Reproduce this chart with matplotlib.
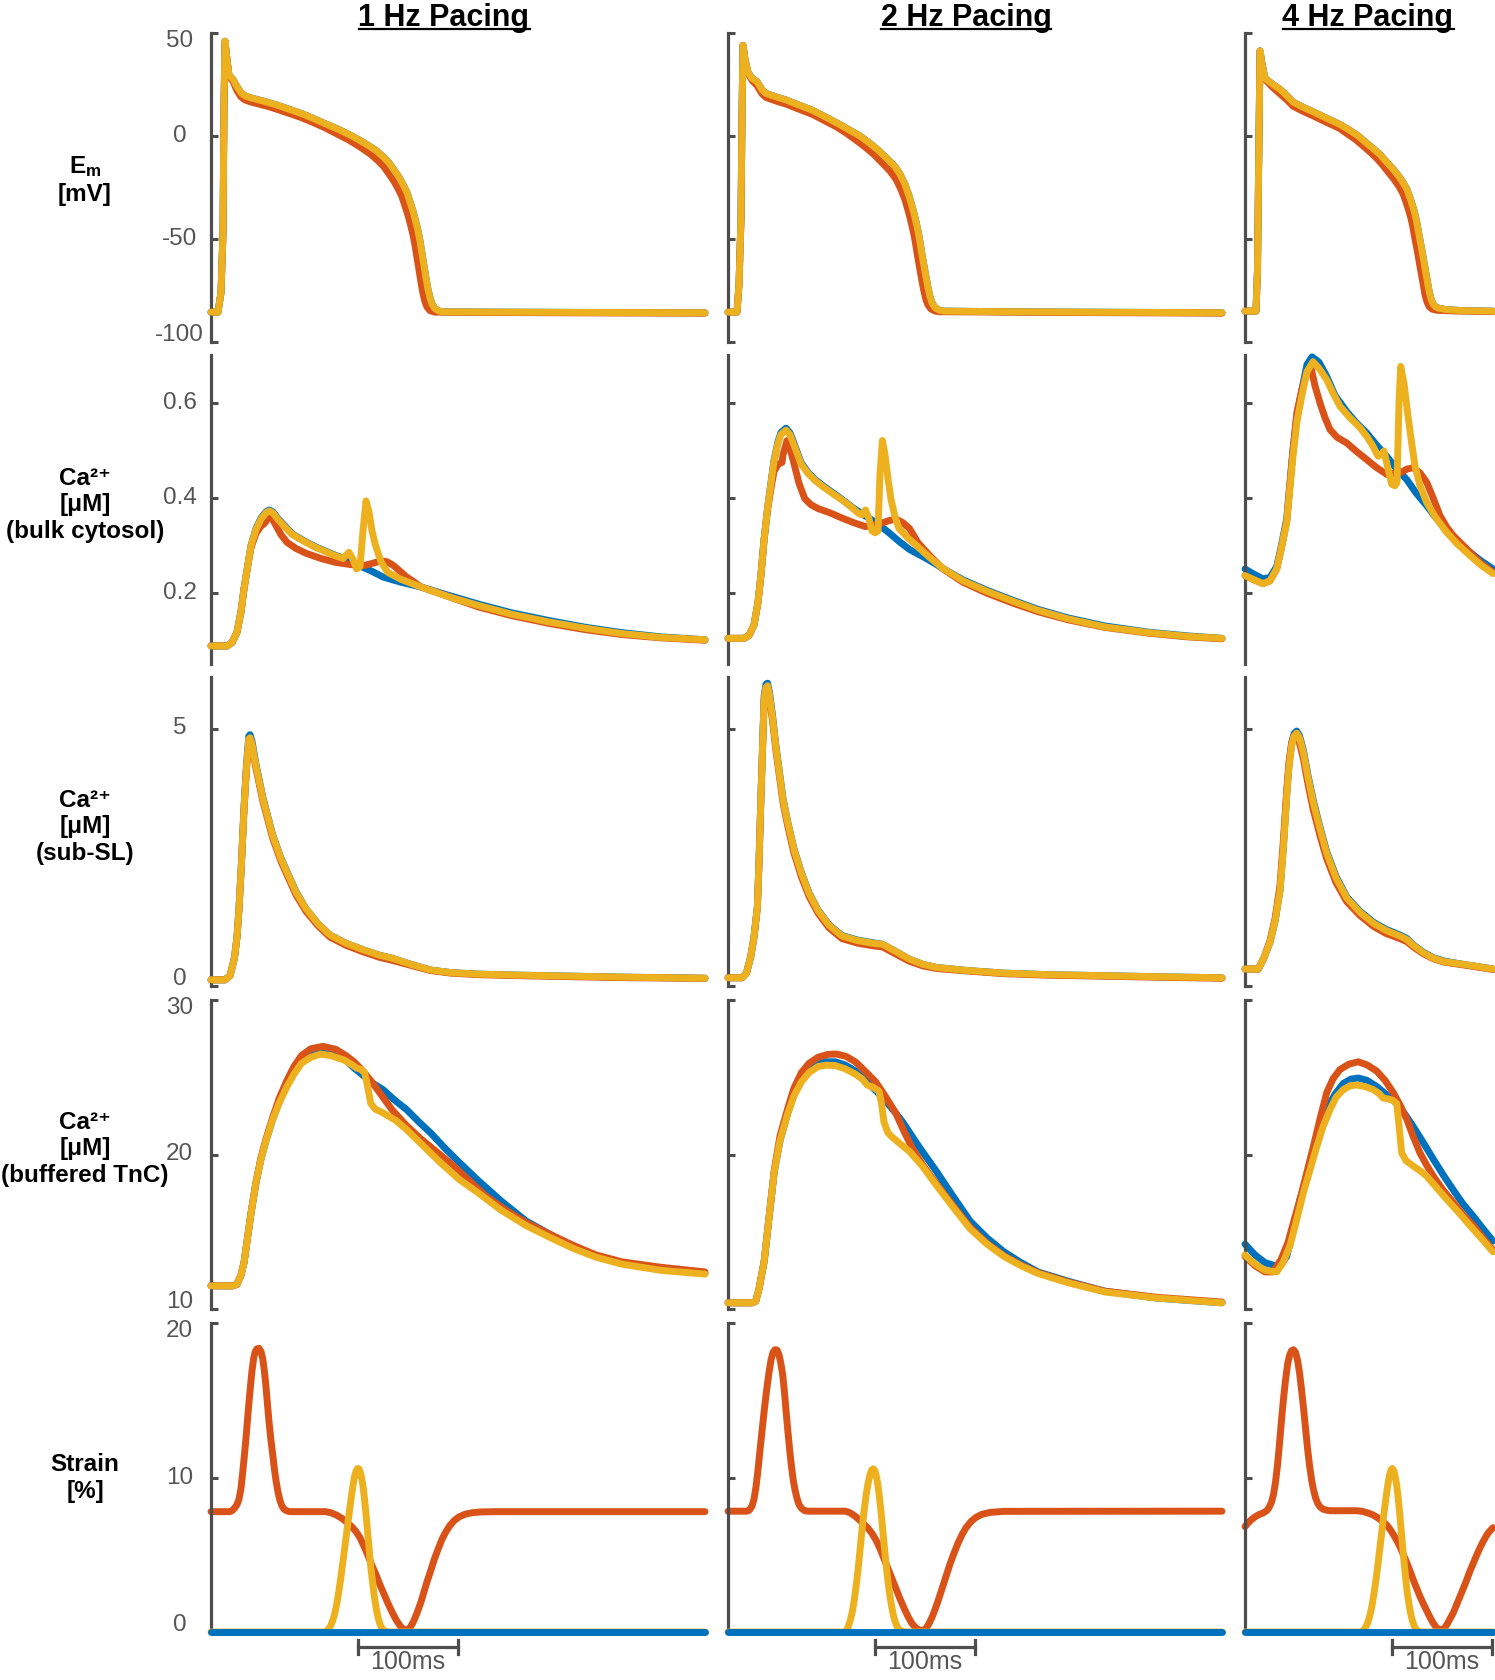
import numpy as np
import matplotlib.pyplot as plt
from matplotlib.lines import Line2D
import matplotlib.transforms as mtransforms

plt.rcParams['font.family'] = ['Liberation Sans', 'DejaVu Sans']
plt.rcParams['mathtext.fontset'] = 'custom'
plt.rcParams['mathtext.rm'] = 'Liberation Sans'
plt.rcParams['mathtext.bf'] = 'Liberation Sans:bold'
plt.rcParams['mathtext.it'] = 'Liberation Sans:italic'

BLUE, RED, YELLOW = '#0072BD', '#D95319', '#EDB120'
GREY = '#4d4d4d'

col_titles = ['1 Hz Pacing', '2 Hz Pacing', '4 Hz Pacing']
col_tmax = [494, 494, 248]
row_labels = ['E$_{\\mathbf{m}}$\n[mV]',
              'Ca\u00b2\u207a\n[\u03bcM]\n(bulk cytosol)',
              'Ca\u00b2\u207a\n[\u03bcM]\n(sub-SL)',
              'Ca\u00b2\u207a\n[\u03bcM]\n(buffered TnC)',
              'Strain\n[%]']
row_ylims = [(-100, 50), (0.05, 0.7), (0, 6), (10, 30), (0, 20)]
row_ticks = [[-100, -50, 0, 50], [0.2, 0.4, 0.6], [0, 5], [10, 20, 30], [0, 10, 20]]
row_ticklabels = [['-100', '-50', '0', '50'], ['0.2', '0.4', '0.6'], ['0', '5'],
                  ['10', '20', '30'], ['0', '10', '20']]
scalebar_ms = (147, 247)

# ---- membrane potential (t [ms], mV) ----
em1_yellow = [(0,-85.5),(7,-85.5),(10,-76),(12,-47),(13,15),(14,46),(16,37),(18,29.5),(22,27.5),(26,24),
              (30,21),(34,19.5),(40,18.5),(47,17.6),(55,16.6),(66,15),(78,13),(90,11),(102,8.6),(114,6),
              (128,3.1),(141,0),(153,-3.3),(165,-7),(172,-10),(178,-13),(183,-16.5),(188,-20),(192,-23.5),
              (196,-27.5),(199,-32),(202,-36.5),(204.5,-41),(207,-46),(209,-51),(211,-57),(213,-63),
              (215,-69),(217,-74.5),(219,-78.5),(221,-81.5),(224,-83.8),(228,-85),(234,-85.4),
              (300,-85.5),(400,-85.7),(494,-85.8)]
em1_blue = em1_yellow
em1_red = [(0,-85.5),(7,-85.5),(10,-76),(12,-47),(13,15),(14,46),(16,37),(18,29),(22,26.5),(26,22),
           (30,19),(34,17.5),(40,16.5),(47,15.6),(55,14.6),(66,13),(78,11),(90,9),(102,6.6),(114,4),
           (126,1),(138,-2),(149,-5.3),(160,-9),(167,-12),(173,-15),(178,-18.5),(183,-22),(187,-25.5),
           (191,-29.5),(194,-34),(197,-38.5),(199.5,-43),(202,-48),(204,-53),(206,-59),(208,-65),
           (210,-71),(212,-76.5),(214,-80.5),(216,-83),(219,-84.8),(224,-85.5),(300,-85.7),
           (400,-85.9),(494,-86)]
em2_yellow = [(0,-85.5),(9,-85.5),(11,-72),(13,-40),(14,10),(15,44),(17,37),(20,31),(24,28),(29,26.4),
              (34,22.5),(38,20.7),(48,19),(58,17.5),(70,15.2),(84,12.6),(96,9.6),(109,6.3),(120,3.3),
              (132,0),(141,-3.2),(150,-6.8),(158,-10.5),(167,-14.9),(172,-18.5),(177,-23.5),(181,-29),
              (184,-34),(187,-39.5),(190,-46),(192,-51.5),(194,-57.5),(196,-63),(198,-68.4),(200,-73.5),
              (202,-78),(204,-81),(207,-83.3),(211,-84.5),(216,-85),(276,-85.3),(400,-85.6),(494,-85.8)]
em2_blue = em2_yellow
em2_red = [(0,-85.5),(9,-85.5),(11,-72),(13,-40),(14,10),(15,44),(17,37),(20,30.5),(24,27),(29,24.5),
           (34,20.5),(38,18.7),(48,17),(58,15.5),(70,13.2),(84,10.6),(96,7.6),(109,4.3),(118,1.5),
           (128,-2),(137,-5.3),(146,-9),(154,-13),(162,-17),(168,-21),(173,-26),(177,-31),(180,-36),
           (183,-41.5),(186,-48),(188,-53.5),(190,-59.5),(192,-65),(194,-70.5),(196,-75.5),(198,-79.5),
           (200,-82),(203,-84),(207,-85),(212,-85.3),(276,-85.5),(400,-85.8),(494,-86)]
em3_yellow = [(0,-85),(11,-85),(12.5,-65),(13.5,-20),(14.5,20),(15,41.3),(17,35),(20,28),(24,26.5),
              (28,25),(35,22.7),(42,19.5),(48,16.5),(58,14),(68,11.8),(80,9),(95,5.6),(104,3),(112,0.5),
              (122,-3.6),(128,-6),(135,-9),(141,-12.3),(148,-16),(153,-19),(158,-22.5),(162,-26),
              (165,-30),(168,-34.5),(170,-38),(172,-42.5),(174,-48),(176,-53),(178,-58.5),(180,-64),
              (182,-69.5),(184,-75),(186,-79),(188,-81.5),(190,-82.7),(193,-83.5),(200,-84.2),
              (218,-84.8),(248,-85)]
em3_blue = em3_yellow
em3_red = [(0,-85),(11,-85),(12.5,-65),(13.5,-20),(14.5,20),(15,41.3),(17,35),(20,27.5),(24,25.5),
           (28,23.5),(35,20.5),(42,17.5),(48,14.5),(58,12),(68,9.8),(80,7),(95,3.6),(103,0.8),(110,-1.5),
           (120,-5.6),(126,-8.2),(132,-11),(138,-14.3),(144,-18),(149,-21),(154,-24.5),(158,-28),
           (161,-32),(164,-36.5),(166,-40),(168,-44.5),(170,-50),(172,-55),(174,-60.5),(176,-66),
           (178,-71.5),(180,-77),(182,-80.5),(184,-82.7),(187,-84),(192,-84.6),(215,-85),(248,-85.2)]

# ---- bulk cytosolic Ca (uM) ----
cab1_yellow = [(0,0.088),(16,0.088),(21,0.095),(26,0.117),(30,0.16),(33,0.208),(37,0.26),(40,0.299),
               (45,0.333),(50,0.355),(55,0.368),(58,0.372),(62,0.368),(66.5,0.355),(74,0.338),(81,0.323),
               (93,0.308),(105,0.295),(124,0.278),(132,0.272),(138,0.285),(142,0.27),(145.5,0.25),
               (149,0.255),(152,0.33),(155,0.393),(158,0.37),(161,0.33),(164.6,0.299),(170,0.265),
               (176.6,0.243),(190,0.228),(210,0.212),(240,0.19),(267.5,0.173),(300,0.155),(339,0.138),
               (375,0.125),(411,0.114),(450,0.106),(494,0.101)]
cab1_blue = [(0,0.088),(16,0.088),(21,0.095),(26,0.117),(30,0.16),(33,0.208),(37,0.26),(40,0.299),
             (45,0.335),(50,0.357),(55,0.37),(58,0.374),(62,0.37),(66.5,0.357),(74,0.34),(81,0.324),
             (93,0.309),(105,0.296),(124,0.279),(136,0.27),(148,0.257),(160,0.246),(172,0.233),
             (190,0.222),(210,0.212),(240,0.193),(267.5,0.176),(300,0.158),(339,0.141),(375,0.127),
             (411,0.116),(450,0.107),(494,0.101)]
cab1_red = [(0,0.088),(16,0.088),(21,0.095),(26,0.117),(30,0.16),(33,0.208),(37,0.26),(40,0.295),
            (45,0.325),(50,0.34),(53,0.345),(55,0.35),(57,0.365),(60,0.36),(64,0.345),(70,0.322),
            (76,0.306),(85,0.293),(95,0.283),(110,0.272),(124,0.264),(140,0.259),(152.6,0.257),
            (162,0.262),(170,0.267),(176,0.265),(182,0.258),(188,0.247),(195,0.234),(202,0.224),
            (210,0.212),(240,0.19),(267.5,0.17),(300,0.152),(339,0.135),(375,0.122),(411,0.112),
            (450,0.105),(494,0.1)]
cab2_yellow = [(0,0.104),(16,0.104),(21,0.11),(26,0.132),(30,0.18),(33,0.238),(36,0.31),(39.6,0.379),
               (43,0.43),(46,0.476),(50,0.515),(53,0.533),(58,0.542),(62,0.532),(65,0.516),(69,0.494),
               (73,0.471),(80,0.451),(87,0.436),(97,0.42),(107,0.405),(116,0.392),(124,0.379),(131,0.366),
               (134,0.364),(137.5,0.374),(141,0.355),(144,0.33),(147,0.326),(150,0.33),(152,0.45),
               (154.4,0.52),(157,0.49),(160,0.44),(163,0.396),(167,0.36),(171,0.335),(180,0.315),
               (188,0.3),(200,0.277),(215,0.251),(235,0.225),(259,0.203),(285,0.182),(310,0.163),
               (340,0.145),(377,0.128),(420,0.116),(460,0.108),(494,0.104)]
cab2_blue = [(0,0.104),(16,0.104),(21,0.11),(26,0.132),(30,0.18),(33,0.238),(36,0.31),(39.6,0.379),
             (43,0.432),(46,0.478),(50,0.518),(53,0.537),(58,0.546),(62,0.536),(65,0.52),(69,0.497),
             (73,0.474),(80,0.453),(87,0.438),(97,0.422),(107,0.407),(116,0.393),(124,0.38),(136,0.363),
             (147.7,0.348),(161,0.326),(171,0.308),(181.5,0.291),(200,0.27),(215,0.251),(235,0.227),
             (259,0.205),(285,0.184),(310,0.165),(340,0.147),(377,0.13),(420,0.117),(460,0.109),(494,0.104)]
cab2_red = [(0,0.104),(16,0.104),(21,0.11),(26,0.132),(30,0.18),(33,0.238),(36,0.31),(39.6,0.375),
            (43,0.42),(46,0.455),(50,0.47),(54,0.474),(55,0.49),(59,0.52),(62.5,0.5),(66.6,0.467),
            (71,0.43),(76.7,0.398),(83,0.385),(90,0.377),(102,0.368),(114,0.357),(126,0.347),
            (137.5,0.339),(151,0.344),(160,0.351),(168,0.355),(175,0.347),(181.5,0.335),(190,0.305),
            (201.7,0.278),(215,0.25),(235,0.222),(259,0.199),(285,0.178),(310,0.16),(340,0.143),
            (377,0.127),(420,0.115),(460,0.107),(494,0.103)]
cab3_yellow = [(0,0.236),(8,0.228),(18,0.219),(25,0.225),(31.7,0.25),(36,0.29),(41.7,0.348),(45,0.42),
               (48,0.487),(52,0.56),(56.7,0.613),(62,0.665),(68,0.686),(74,0.672),(81.7,0.648),(88,0.62),
               (95,0.592),(105,0.568),(115,0.547),(122,0.528),(128,0.508),(133,0.487),(136,0.49),
               (139,0.498),(142,0.47),(146.7,0.428),(150,0.425),(152,0.432),(154,0.6),(155.7,0.676),
               (159,0.64),(163,0.571),(167,0.51),(170,0.466),(175,0.425),(181.7,0.39),(190,0.36),
               (201.7,0.327),(212,0.303),(225,0.278),(236,0.258),(248,0.24)]
cab3_blue = [(0,0.25),(8,0.24),(18,0.229),(25,0.232),(31.7,0.255),(36,0.295),(41.7,0.355),(45,0.43),
             (48,0.5),(52,0.575),(56.7,0.625),(62,0.68),(67,0.696),(74,0.685),(81.7,0.655),(90,0.615),
             (101.7,0.581),(111,0.558),(121.7,0.536),(131,0.512),(141.7,0.487),(151,0.462),(161.7,0.438),
             (171,0.41),(181.7,0.383),(190,0.36),(201.7,0.33),(212,0.308),(225,0.285),(236,0.267),(248,0.25)]
cab3_red = [(0,0.236),(8,0.228),(18,0.219),(25,0.225),(31.7,0.25),(36,0.29),(41.7,0.35),(45,0.43),
            (48,0.5),(52,0.58),(56.7,0.625),(62,0.665),(65.7,0.676),(70,0.635),(75,0.599),(80,0.568),
            (85,0.543),(92,0.527),(101.7,0.515),(111,0.498),(121.7,0.48),(131,0.464),(141.7,0.449),
            (155,0.452),(162,0.46),(168.3,0.463),(175,0.452),(181.7,0.432),(188,0.4),(195,0.362),
            (201.7,0.338),(208.3,0.32),(225,0.285),(236,0.262),(248,0.243)]

# ---- sub-sarcolemmal Ca (uM) ----
cass1_yellow = [(0,0.12),(14,0.12),(19,0.2),(23.4,0.54),(26,0.95),(28,1.5),(30.5,2.4),(33,3.44),
                (35.5,4.25),(37.8,4.79),(39,4.82),(41,4.7),(45,4.27),(52,3.63),(61.7,2.92),(70,2.47),
                (76,2.21),(85,1.82),(95,1.5),(107,1.21),(119,0.99),(135,0.83),(152.6,0.7),(168,0.6),
                (181,0.54),(200,0.42),(219.6,0.31),(240,0.26),(267.5,0.23),(310,0.21),(363,0.19),
                (420,0.17),(494,0.15)]
cass1_blue = [(0,0.12),(14,0.12),(19,0.2),(23.4,0.54),(26,0.95),(28,1.5),(30.5,2.4),(33,3.46),
              (35.5,4.3),(37.8,4.85),(39,4.88),(41,4.75),(45,4.3),(52,3.65),(61.7,2.93),(70,2.48),
              (76,2.22),(85,1.83),(95,1.5),(107,1.21),(119,0.99),(135,0.83),(152.6,0.7),(168,0.6),
              (181,0.54),(200,0.42),(219.6,0.31),(240,0.26),(267.5,0.23),(310,0.21),(363,0.19),
              (420,0.17),(494,0.15)]
cass1_red = [(0,0.12),(14,0.12),(19,0.2),(23.4,0.54),(26,0.95),(28,1.5),(30.5,2.4),(33,3.42),
             (35.5,4.22),(37.8,4.76),(39,4.79),(41,4.66),(45,4.22),(52,3.58),(61.7,2.87),(70,2.42),
             (76,2.16),(85,1.77),(95,1.45),(107,1.17),(119,0.95),(135,0.79),(152.6,0.66),(168,0.56),
             (181,0.5),(200,0.4),(219.6,0.3),(240,0.25),(267.5,0.22),(310,0.2),(363,0.18),
             (420,0.16),(494,0.15)]
cass2_yellow = [(0,0.16),(14,0.16),(18.5,0.25),(22.7,0.57),(26,0.95),(29.4,1.54),(31,2.4),(32.8,3.57),
                (34.5,4.6),(36.2,5.6),(38,5.8),(39.6,5.83),(41.5,5.65),(44.6,5.2),(48,4.62),(51.4,4.14),
                (55,3.62),(59.8,3.17),(66,2.65),(73.4,2.19),(81,1.8),(90.2,1.46),(101,1.18),(114,0.97),
                (130,0.88),(145,0.83),(154.4,0.81),(165,0.7),(181.5,0.52),(195,0.42),(208.5,0.36),
                (240,0.3),(276,0.25),(320,0.22),(377,0.2),(430,0.18),(494,0.16)]
cass2_blue = [(0,0.16),(14,0.16),(18.5,0.25),(22.7,0.57),(26,0.95),(29.4,1.54),(31,2.4),(32.8,3.6),
              (34.5,4.65),(36.2,5.65),(38,5.86),(39.6,5.88),(41.5,5.7),(44.6,5.24),(48,4.65),(51.4,4.16),
              (55,3.64),(59.8,3.18),(66,2.66),(73.4,2.2),(81,1.81),(90.2,1.47),(101,1.19),(114,0.98),
              (130,0.89),(145,0.84),(154.4,0.81),(165,0.7),(181.5,0.52),(195,0.42),(208.5,0.36),
              (240,0.3),(276,0.25),(320,0.22),(377,0.2),(430,0.18),(494,0.16)]
cass2_red = [(0,0.16),(14,0.16),(18.5,0.25),(22.7,0.57),(26,0.95),(29.4,1.54),(31,2.4),(32.8,3.55),
             (34.5,4.55),(36.2,5.55),(38,5.75),(39.6,5.78),(41.5,5.6),(44.6,5.14),(48,4.56),(51.4,4.08),
             (55,3.56),(59.8,3.1),(66,2.58),(73.4,2.12),(81,1.74),(90.2,1.41),(101,1.13),(114,0.92),
             (130,0.83),(145,0.78),(154.4,0.76),(165,0.65),(181.5,0.48),(195,0.39),(208.5,0.34),
             (240,0.29),(276,0.24),(320,0.21),(377,0.19),(430,0.17),(494,0.15)]
cass3_yellow = [(0,0.33),(13.3,0.33),(19,0.55),(25,0.85),(30,1.25),(35,1.84),(38.5,2.7),(41.7,3.68),
                (44,4.25),(46.7,4.67),(49,4.85),(51.7,4.91),(54.5,4.82),(58.3,4.54),(63,4.05),(68.3,3.56),
                (75,3.05),(81.7,2.58),(91,2.1),(101.7,1.71),(115,1.43),(128.3,1.22),(141,1.08),(155,0.97),
                (162,0.9),(168.3,0.79),(178,0.65),(188.3,0.54),(200,0.47),(218.3,0.42),(235,0.37),(248,0.33)]
cass3_blue = [(0,0.33),(13.3,0.33),(19,0.55),(25,0.85),(30,1.25),(35,1.86),(38.5,2.74),(41.7,3.72),
              (44,4.3),(46.7,4.72),(49,4.9),(51.7,4.95),(54.5,4.86),(58.3,4.58),(63,4.09),(68.3,3.6),
              (75,3.08),(81.7,2.61),(91,2.13),(101.7,1.73),(115,1.45),(128.3,1.24),(141,1.1),(155,0.99),
              (162,0.92),(168.3,0.8),(178,0.66),(188.3,0.55),(200,0.48),(218.3,0.42),(235,0.37),(248,0.33)]
cass3_red = [(0,0.33),(13.3,0.33),(19,0.55),(25,0.88),(30,1.3),(35,1.95),(38.5,2.85),(41.7,3.8),
             (44,4.35),(46.7,4.72),(49,4.86),(51.7,4.85),(54.5,4.72),(58.3,4.42),(63,3.92),(68.3,3.42),
             (75,2.92),(81.7,2.47),(91,2.01),(101.7,1.64),(115,1.37),(128.3,1.16),(141,1.02),(155,0.92),
             (162,0.86),(168.3,0.76),(178,0.63),(188.3,0.53),(200,0.46),(218.3,0.41),(235,0.36),(248,0.32)]

# ---- Ca bound to troponin C (uM) ----
tnc1_yellow = [(0,11.5),(22,11.5),(26,11.6),(30,12.2),(33,13.0),(36.5,14.6),(40,16.2),(45,18.2),(50,19.7),
               (55,20.9),(61.7,22.26),(68,23.3),(76,24.4),(83,25.2),(90.4,25.9),(100,26.3),(109.6,26.5),
               (120,26.4),(133.5,26.1),(140,25.85),(145.5,25.6),(150,25.5),(153.6,25.3),(156,24.6),
               (159.8,23.3),(164,22.95),(171.8,22.7),(185,22.2),(195.7,21.6),(210,20.7),(229,19.5),
               (248,18.4),(267.5,17.5),(290,16.4),(315,15.4),(340,14.6),(363,13.9),(385,13.35),
               (411,12.9),(450,12.5),(494,12.26)]
tnc1_blue = [(0,11.5),(22,11.5),(26,11.6),(30,12.2),(33,13.0),(36.5,14.6),(40,16.2),(45,18.2),(50,19.7),
             (55,20.9),(61.7,22.3),(68,23.4),(76,24.5),(83,25.3),(90.4,26.0),(100,26.5),(109,26.7),
             (120,26.6),(133.5,26.2),(143,25.6),(152.6,25.1),(162,24.6),(172,24.2),(184,23.5),
             (195.7,22.9),(208,22.1),(219.6,21.4),(234,20.4),(248,19.5),(267.5,18.3),(290,17.0),
             (315,15.7),(340,14.8),(363,14.0),(385,13.4),(411,12.95),(450,12.55),(494,12.3)]
tnc1_red = [(0,11.5),(22,11.5),(26,11.6),(30,12.2),(33,13.0),(36.5,14.6),(40,16.2),(45,18.2),(50,19.8),
            (55,21.0),(61.7,22.4),(68,23.6),(76,24.8),(83,25.7),(90.4,26.4),(100,26.85),(112,27.0),
            (125,26.8),(135,26.4),(143,26.0),(152,25.4),(162,24.6),(172,23.7),(181,22.9),(195,21.9),
            (210,21.0),(227,20.1),(243.5,19.2),(260,18.2),(275,17.3),(295,16.4),(315,15.6),(340,14.8),
            (363,14.1),(385,13.5),(411,13.05),(450,12.7),(494,12.4)]
tnc2_yellow = [(0,10.4),(24,10.4),(27.7,10.5),(31,11.3),(36.2,13.1),(41,15.9),(46.3,18.9),(52,20.9),
               (59.8,22.65),(66,23.8),(73.4,24.7),(81,25.3),(90.2,25.7),(98,25.78),(107,25.76),(117,25.55),
               (127.4,25.2),(134,24.9),(139.2,24.5),(145,24.35),(151,24.1),(153.5,23.3),(156,22.1),
               (160,21.4),(164.6,21.1),(172,20.7),(181.5,20.2),(195,19.2),(208.5,18.0),(225,16.6),
               (242,15.2),(259,14.2),(276,13.4),(293,12.8),(310,12.3),(340,11.7),(377,11.1),(430,10.7),
               (494,10.4)]
tnc2_blue = [(0,10.4),(24,10.4),(27.7,10.5),(31,11.3),(36.2,13.1),(41,15.9),(46.3,18.9),(52,20.9),
             (59.8,22.7),(66,23.9),(73.4,24.8),(81,25.5),(90.2,25.85),(98,26.0),(107,26.0),(117,25.8),
             (127.4,25.4),(139,24.7),(154.4,23.7),(165,22.9),(174.7,22.1),(191,20.5),(208.5,18.9),
             (225,17.3),(242,15.7),(259,14.6),(276,13.7),(293,13.0),(310,12.4),(340,11.8),(377,11.15),
             (430,10.7),(494,10.4)]
tnc2_red = [(0,10.4),(24,10.4),(27.7,10.5),(31,11.3),(36.2,13.1),(41,15.9),(46.3,19.0),(52,21.2),
            (59.8,23.0),(66,24.3),(73.4,25.3),(81,25.9),(90.2,26.3),(100,26.48),(108.8,26.5),(118,26.35),
            (127.4,26.0),(137,25.4),(147.7,24.7),(158,23.7),(168,22.65),(176,21.5),(184.8,20.35),
            (195,19.3),(208.5,18.1),(225,16.7),(242,15.3),(259,14.25),(276,13.45),(293,12.85),
            (310,12.35),(340,11.75),(377,11.15),(430,10.75),(494,10.45)]
tnc3_yellow = [(0,13.5),(10,12.9),(20,12.5),(31.7,12.4),(38,13.0),(45,14.1),(51,15.6),(58.3,17.5),(65,19.0),
               (71.7,20.5),(78,21.8),(85,22.9),(91,23.7),(98.3,24.2),(105,24.45),(111.7,24.5),(120,24.4),
               (128.3,24.2),(134,23.95),(138.3,23.65),(143,23.6),(148,23.5),(151.7,23.3),(153.5,22.2),
               (156.7,20.1),(161,19.6),(168.3,19.25),(175,18.95),(181.7,18.6),(191,17.9),(201.7,17.1),
               (213,16.3),(225,15.4),(236,14.6),(248,13.7)]
tnc3_blue = [(0,14.2),(10,13.5),(20,13.0),(30,12.8),(36,12.9),(41.7,13.4),(48,15.1),(55,17.1),(61.7,18.5),
             (68.3,19.9),(75,21.5),(81.7,22.9),(90,23.9),(98.3,24.6),(106,24.88),(113.3,24.95),(122,24.8),
             (131.7,24.4),(141,23.9),(151.7,23.3),(160,22.6),(168.3,21.8),(178,20.8),(188.3,19.7),
             (198,18.7),(208.3,17.7),(218,16.8),(228.3,16.0),(238,15.2),(248,14.4)]
tnc3_red = [(0,13.4),(10,12.8),(20,12.4),(28,12.4),(36,13.2),(43,14.3),(48,15.5),(55,17.1),(61.7,18.8),
            (68.3,20.5),(75,22.3),(81.7,24.0),(88,24.9),(95,25.5),(104,25.85),(113.3,26.0),(122,25.8),
            (131.7,25.4),(140,24.8),(148.3,24.0),(155,23.2),(161.7,22.3),(168,21.2),(175,20.1),
            (181.7,19.3),(188.3,18.6),(198,17.7),(208.3,16.9),(218,16.1),(228.3,15.4),(238,14.6),(248,13.8)]

# ---- strain (%) ----
str1_blue = [(0,0),(494,0)]
str1_red = [(0,7.79),(18.7,7.79),(21,7.85),(24,8.05),(26,8.25),(28,8.6),(30,9.3),(31.5,10.2),(33.5,11.5),
            (35.4,12.86),(37.2,14.3),(39,15.6),(40.8,16.8),(42.6,17.7),(44.2,18.15),(46,18.33),(48,18.36),
            (50,18.15),(51.7,17.7),(53.2,17.0),(54.8,16.0),(56.4,14.8),(58,13.6),(59.8,12.5),(61.7,11.5),
            (63.5,10.5),(65,9.8),(67,9.05),(69,8.5),(71,8.15),(73,7.95),(75.5,7.85),(78.5,7.79),
            (114.4,7.79),(120,7.72),(126,7.55),(131,7.35),(136,7.1),(141,6.8),(145,6.5),(149,6.1),
            (153,5.55),(157,4.95),(161,4.3),(165,3.7),(169,3.05),(173,2.45),(177,1.85),(181,1.3),
            (185,0.8),(188.5,0.45),(191.5,0.22),(194,0.12),(196.5,0.12),(199,0.28),(201.5,0.55),(204,0.9),
            (207,1.4),(210,1.95),(213,2.6),(216,3.25),(219.6,3.95),(223,4.65),(227,5.35),(231,6.0),
            (235,6.5),(239,6.9),(243,7.2),(248,7.45),(254,7.62),(261,7.72),(270,7.77),(285,7.79),(494,7.79)]
str1_yellow = [(0,0),(114,0),(117,0.12),(120,0.45),(122,0.8),(124,1.25),(126,1.9),(128,2.7),(130,3.6),
               (132,4.6),(134,5.6),(136,6.6),(138,7.6),(140,8.6),(141.8,9.4),(143.5,10.05),(145,10.4),
               (146.5,10.58),(148,10.55),(149.5,10.3),(151,9.85),(152.5,9.2),(154,8.3),(155.5,7.3),
               (157,6.2),(158.5,5.1),(160,4.1),(161.5,3.25),(163,2.45),(165,1.6),(167,0.95),(169,0.5),
               (171,0.22),(174,0.06),(177,0),(494,0)]
str2_blue = [(0,0),(494,0)]
str2_red = [(0,7.82),(19.3,7.82),(21.5,7.9),(24,8.15),(26,8.6),(28,9.4),(30,10.5),(32.2,11.9),(34.5,13.3),
            (36.5,14.5),(38.5,15.6),(40.8,16.7),(43,17.6),(45,18.1),(47,18.27),(49,18.25),(51,17.95),
            (52.8,17.4),(54.8,16.6),(56.5,15.5),(58.2,14.2),(60,12.9),(61.8,11.7),(63.5,10.7),(65.2,9.85),
            (67,9.2),(69,8.65),(71,8.25),(73.5,8.0),(76.7,7.85),(80,7.82),(117.3,7.82),(122,7.72),
            (127,7.5),(131,7.28),(136,6.98),(140,6.72),(144,6.38),(148,5.95),(152,5.4),(156,4.75),
            (160,4.1),(164,3.45),(168,2.8),(172,2.15),(176,1.55),(180,1.0),(184,0.55),(188,0.25),
            (191.5,0.12),(195,0.1),(198,0.22),(201,0.55),(204,0.95),(207,1.45),(210,2.0),(213,2.6),
            (216,3.2),(219,3.8),(222,4.4),(226,5.1),(230,5.75),(234,6.3),(238,6.75),(243,7.15),
            (248,7.42),(254,7.62),(262,7.74),(276,7.81),(494,7.82)]
str2_yellow = [(0,0),(117.3,0),(120,0.3),(122,0.7),(124,1.2),(126,1.95),(128,2.9),(130,4.0),(132,5.3),
               (134,6.6),(136,7.8),(138,8.8),(140,9.6),(142,10.2),(143.7,10.48),(145.3,10.56),
               (146.8,10.45),(148.3,10.1),(149.8,9.55),(151.2,8.85),(152.7,8.0),(154.2,7.0),(155.7,5.95),
               (157.2,4.95),(158.7,4.0),(160.2,3.15),(161.8,2.4),(163.5,1.7),(165.3,1.1),(167.2,0.65),
               (169.2,0.33),(171.5,0.14),(174.7,0.04),(178,0),(494,0)]
str3_blue = [(0,0),(248,0)]
str3_red = [(0,6.82),(3,7.05),(6,7.25),(10,7.45),(14,7.6),(18,7.7),(21.7,7.85),(24,8.05),(26.5,8.4),
            (28.5,8.9),(30.5,9.7),(32.5,10.8),(34.5,12.2),(36.5,13.7),(38.5,15.1),(40.5,16.3),(42.5,17.3),
            (44.5,17.9),(46.5,18.2),(48.5,18.27),(50.5,18.1),(52.5,17.6),(54.5,16.8),(56.5,15.7),(58.5,14.5),
            (60.5,13.2),(62.5,11.9),(64.5,10.8),(66.5,9.9),(68.5,9.2),(70.5,8.7),(72.5,8.35),(75,8.1),
            (78,7.95),(82,7.88),(85,7.85),(111.7,7.85),(118,7.8),(124,7.68),(128.3,7.57),(133,7.38),
            (137.5,7.16),(141.7,6.93),(145,6.65),(148.5,6.3),(152,5.9),(155,5.52),(158.5,4.98),(161.7,4.5),
            (165,3.95),(168.3,3.37),(171.5,2.85),(175,2.3),(178.5,1.8),(181.7,1.38),(185,0.95),(188,0.6),
            (191,0.32),(194,0.15),(197,0.12),(200,0.28),(202.5,0.55),(205,0.85),(208.3,1.25),(211.5,1.75),
            (215,2.3),(218.5,2.85),(221.7,3.37),(225,3.95),(228.3,4.45),(231.5,4.95),(235,5.45),
            (238.5,5.9),(242,6.3),(245,6.55),(248,6.75)]
str3_yellow = [(0,0),(116.7,0),(119,0.15),(121,0.35),(123,0.65),(125,1.1),(127,1.7),(129,2.5),(131,3.4),
               (133,4.4),(135,5.5),(137,6.6),(139,7.7),(141,8.7),(142.8,9.5),(144.3,10.1),(145.8,10.45),
               (147.3,10.58),(148.8,10.45),(150.3,10.05),(151.8,9.45),(153.3,8.6),(154.8,7.6),(156.3,6.5),
               (157.8,5.4),(159.3,4.35),(160.8,3.4),(162.3,2.55),(164,1.8),(165.8,1.15),(167.7,0.65),
               (169.8,0.3),(172,0.1),(174.5,0.02),(177,0),(248,0)]

traces = [
    [(em1_blue, em1_red, em1_yellow), (em2_blue, em2_red, em2_yellow), (em3_blue, em3_red, em3_yellow)],
    [(cab1_blue, cab1_red, cab1_yellow), (cab2_blue, cab2_red, cab2_yellow), (cab3_blue, cab3_red, cab3_yellow)],
    [(cass1_blue, cass1_red, cass1_yellow), (cass2_blue, cass2_red, cass2_yellow), (cass3_blue, cass3_red, cass3_yellow)],
    [(tnc1_blue, tnc1_red, tnc1_yellow), (tnc2_blue, tnc2_red, tnc2_yellow), (tnc3_blue, tnc3_red, tnc3_yellow)],
    [(str1_blue, str1_red, str1_yellow), (str2_blue, str2_red, str2_yellow), (str3_blue, str3_red, str3_yellow)],
]

# layout in pixels of the 1495x1680 canvas
W, H = 1495, 1680
col_x = [211, 728, 1245]
col_w = [494, 494, 248]
row_top = [33, 355, 677, 1000, 1323]
row_h = 309
title_x = [444, 966, 1368]
label_y = [180, 505, 827, 1149, 1478]

fig = plt.figure(figsize=(W / 100, H / 100), dpi=100)

for r in range(5):
    for c in range(3):
        ax = fig.add_axes([col_x[c] / W, 1 - (row_top[r] + row_h) / H, col_w[c] / W, row_h / H])
        blue, red, yellow = traces[r][c]
        zb = 5 if r == 4 else 1
        for data, colr, z in [(blue, BLUE, zb), (red, RED, 2), (yellow, YELLOW, 3)]:
            arr = np.array(data)
            ax.plot(arr[:, 0], arr[:, 1], color=colr, lw=5, zorder=z,
                    clip_on=False, solid_capstyle='round', solid_joinstyle='round')
        ax.set_xlim(0, col_tmax[c])
        ax.set_ylim(*row_ylims[r])
        for s in ['top', 'right', 'bottom']:
            ax.spines[s].set_visible(False)
        ax.spines['left'].set_color(GREY)
        ax.spines['left'].set_linewidth(2.3)
        ax.set_xticks([])
        ax.set_yticks(row_ticks[r])
        ax.tick_params(axis='y', direction='in', length=5, width=2.2, color=GREY, labelleft=False)
        ax.patch.set_visible(False)
        if c == 0:
            lo, hi = row_ylims[r]
            for val, lab in zip(row_ticks[r], row_ticklabels[r]):
                dy = 0
                if val == hi:
                    dy = -6
                elif val == lo:
                    dy = 5
                ax.annotate(lab, xy=(0, val), xycoords=('axes fraction', 'data'),
                            xytext=(-22.5, dy), textcoords='offset points',
                            ha='center', va='center', fontsize=17.5, color='#555555',
                            annotation_clip=False)
        if r == 4:
            trans = mtransforms.blended_transform_factory(ax.transData, ax.transAxes)
            x0, x1 = scalebar_ms
            yb = -15 / row_h
            ax.plot([x0, x1], [yb, yb], color=GREY, lw=2.3, transform=trans, clip_on=False)
            for xe in (x0, x1):
                ax.plot([xe, xe], [yb - 7 / row_h, yb + 7 / row_h], color=GREY, lw=2.3,
                        transform=trans, clip_on=False)
            ax.text((x0 + x1) / 2, -30 / row_h, '100ms', transform=trans, ha='center',
                    va='center', fontsize=18, color='#555555')

for r in range(5):
    fig.text(85 / W, 1 - label_y[r] / H, row_labels[r], ha='center', va='center',
             multialignment='center', fontsize=17.5, fontweight='bold', linespacing=1.2)

titles = []
for c in range(3):
    t = fig.text(title_x[c] / W, 1 - 26 / H, col_titles[c], ha='center', va='baseline',
                 fontsize=22, fontweight='bold')
    titles.append(t)

fig.canvas.draw()
for t in titles:
    bb = t.get_window_extent()
    fig.add_artist(Line2D([bb.x0 / W, bb.x1 / W], [1 - 29 / H, 1 - 29 / H], color='black',
                          lw=1.6, transform=fig.transFigure))

fig.savefig('out.png', dpi=100)
